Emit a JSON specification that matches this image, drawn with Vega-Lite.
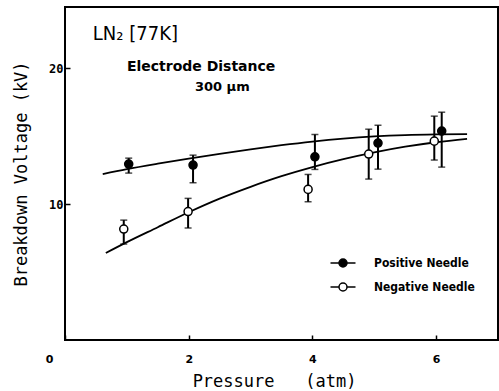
{
  "$schema": "https://vega.github.io/schema/vega-lite/v6.json",
  "width": 433,
  "height": 333,
  "autosize": "none",
  "padding": {"left": 65, "top": 7, "right": 1, "bottom": 51},
  "background": "white",
  "config": {
    "view": {"stroke": "black", "strokeWidth": 2},
    "axis": {"grid": false, "domain": false, "labelColor": "black", "titleColor": "black", "tickColor": "black"}
  },
  "datasets": {
    "points": [
      {"series": "Positive Needle", "pressure": 1.03, "voltage": 12.94, "lo": 12.28, "hi": 13.38},
      {"series": "Positive Needle", "pressure": 2.07, "voltage": 12.87, "lo": 11.57, "hi": 13.6},
      {"series": "Positive Needle", "pressure": 4.04, "voltage": 13.48, "lo": 12.55, "hi": 15.12},
      {"series": "Positive Needle", "pressure": 5.06, "voltage": 14.49, "lo": 12.57, "hi": 15.8},
      {"series": "Positive Needle", "pressure": 6.09, "voltage": 15.37, "lo": 12.72, "hi": 16.76},
      {"series": "Negative Needle", "pressure": 0.95, "voltage": 8.16, "lo": 7.06, "hi": 8.82},
      {"series": "Negative Needle", "pressure": 1.99, "voltage": 9.45, "lo": 8.24, "hi": 10.42},
      {"series": "Negative Needle", "pressure": 3.93, "voltage": 11.08, "lo": 10.17, "hi": 12.18},
      {"series": "Negative Needle", "pressure": 4.91, "voltage": 13.68, "lo": 11.84, "hi": 15.51},
      {"series": "Negative Needle", "pressure": 5.97, "voltage": 14.63, "lo": 13.24, "hi": 16.47}
    ],
    "curves": [
      {"series": "Positive Needle", "pressure": 0.61, "voltage": 12.21},
      {"series": "Positive Needle", "pressure": 1.0, "voltage": 12.57},
      {"series": "Positive Needle", "pressure": 1.5, "voltage": 12.97},
      {"series": "Positive Needle", "pressure": 2.0, "voltage": 13.34},
      {"series": "Positive Needle", "pressure": 2.5, "voltage": 13.69},
      {"series": "Positive Needle", "pressure": 3.0, "voltage": 14.02},
      {"series": "Positive Needle", "pressure": 3.5, "voltage": 14.33},
      {"series": "Positive Needle", "pressure": 4.0, "voltage": 14.6},
      {"series": "Positive Needle", "pressure": 4.5, "voltage": 14.82},
      {"series": "Positive Needle", "pressure": 5.0, "voltage": 14.98},
      {"series": "Positive Needle", "pressure": 5.5, "voltage": 15.08},
      {"series": "Positive Needle", "pressure": 6.0, "voltage": 15.13},
      {"series": "Positive Needle", "pressure": 6.5, "voltage": 15.15},
      {"series": "Negative Needle", "pressure": 0.66, "voltage": 6.4},
      {"series": "Negative Needle", "pressure": 1.0, "voltage": 7.2},
      {"series": "Negative Needle", "pressure": 1.5, "voltage": 8.3},
      {"series": "Negative Needle", "pressure": 2.0, "voltage": 9.4},
      {"series": "Negative Needle", "pressure": 2.5, "voltage": 10.4},
      {"series": "Negative Needle", "pressure": 3.0, "voltage": 11.27},
      {"series": "Negative Needle", "pressure": 3.5, "voltage": 12.05},
      {"series": "Negative Needle", "pressure": 4.0, "voltage": 12.72},
      {"series": "Negative Needle", "pressure": 4.5, "voltage": 13.3},
      {"series": "Negative Needle", "pressure": 5.0, "voltage": 13.8},
      {"series": "Negative Needle", "pressure": 5.5, "voltage": 14.22},
      {"series": "Negative Needle", "pressure": 6.0, "voltage": 14.55},
      {"series": "Negative Needle", "pressure": 6.5, "voltage": 14.8}
    ],
    "title1": [{"pressure": 0.45, "voltage": 22.5, "label": "LN₂ [77K]"}],
    "title2": [{"pressure": 2.2, "voltage": 20.07, "label": "Electrode Distance"}],
    "title3": [{"pressure": 2.1, "voltage": 18.6, "label": "300 μm"}]
  },
  "layer": [
    {
      "data": {"name": "curves"},
      "mark": {"type": "line", "color": "black", "strokeWidth": 1.8, "interpolate": "monotone"},
      "encoding": {
        "x": {
          "field": "pressure", "type": "quantitative",
          "scale": {"domain": [0, 7], "nice": false, "zero": false},
          "axis": {
            "values": [0, 2, 4, 6],
            "format": "d",
            "title": "Pressure\u00a0\u00a0\u00a0(atm)",
            "titleFont": "DejaVu Sans Mono", "titleFontSize": 17, "titleFontWeight": "normal",
            "titleX": 209, "titleY": 41, "titleBaseline": "middle",
            "labelFont": "DejaVu Sans", "labelFontWeight": "bold", "labelFontSize": 11,
            "labelOffset": {"condition": {"test": "datum.value === 0", "value": -16}, "value": 0},
            "labelFlush": false, "labelOverlap": false,
            "tickSize": -5, "tickWidth": 1.5, "labelPadding": 18
          }
        },
        "y": {
          "field": "voltage", "type": "quantitative",
          "scale": {"domain": [0, 24.5], "nice": false, "zero": false},
          "axis": {
            "values": [10, 20],
            "format": "d",
            "title": "Breakdown Voltage (kV)",
            "titleFont": "DejaVu Sans Mono", "titleFontSize": 17, "titleFontWeight": "normal",
            "titleX": -44, "titleY": 166.5, "titleBaseline": "middle", "titleAngle": -90,
            "labelFont": "DejaVu Sans Mono", "labelFontWeight": "bold", "labelFontSize": 12,
            "tickSize": -5, "tickWidth": 1.5, "labelPadding": 7
          }
        },
        "detail": {"field": "series"}
      }
    },
    {
      "data": {"name": "points"},
      "mark": {"type": "rule", "color": "black", "strokeWidth": 2},
      "encoding": {
        "x": {"field": "pressure", "type": "quantitative"},
        "y": {"field": "lo", "type": "quantitative"},
        "y2": {"field": "hi"}
      }
    },
    {
      "data": {"name": "points"},
      "mark": {"type": "tick", "orient": "horizontal", "color": "black", "size": 7, "thickness": 1.5},
      "encoding": {
        "x": {"field": "pressure", "type": "quantitative"},
        "y": {"field": "lo", "type": "quantitative"}
      }
    },
    {
      "data": {"name": "points"},
      "mark": {"type": "tick", "orient": "horizontal", "color": "black", "size": 7, "thickness": 1.5},
      "encoding": {
        "x": {"field": "pressure", "type": "quantitative"},
        "y": {"field": "hi", "type": "quantitative"}
      }
    },
    {
      "data": {"name": "points"},
      "mark": {"type": "point", "shape": "circle", "size": 65, "filled": true, "stroke": "black", "strokeWidth": 1.5, "opacity": 1},
      "encoding": {
        "x": {"field": "pressure", "type": "quantitative"},
        "y": {"field": "voltage", "type": "quantitative"},
        "fill": {
          "field": "series", "type": "nominal",
          "scale": {"domain": ["Positive Needle", "Negative Needle"], "range": ["black", "white"]},
          "legend": {
            "orient": "none", "legendX": 267, "legendY": 245, "title": null, "padding": 0,
            "symbolType": "M-1.25,0H-0.4M0.4,0H1.25M-0.4,0A0.4,0.4,0,1,0,0.4,0A0.4,0.4,0,1,0,-0.4,0Z",
            "symbolSize": 400, "symbolStrokeColor": "black", "symbolStrokeWidth": 1.5, "symbolOpacity": 1,
            "labelFont": "DejaVu Sans Condensed", "labelFontSize": 12, "labelFontWeight": "bold", "labelColor": "black",
            "labelOffset": 20, "rowPadding": 6
          }
        }
      }
    },
    {
      "data": {"name": "title1"},
      "mark": {"type": "text", "align": "left", "baseline": "middle", "font": "DejaVu Sans Condensed", "fontSize": 20, "color": "black"},
      "encoding": {
        "x": {"field": "pressure", "type": "quantitative"},
        "y": {"field": "voltage", "type": "quantitative"},
        "text": {"field": "label"}
      }
    },
    {
      "data": {"name": "title2"},
      "mark": {"type": "text", "align": "center", "baseline": "middle", "font": "DejaVu Sans", "fontWeight": "bold", "fontSize": 14, "color": "black"},
      "encoding": {
        "x": {"field": "pressure", "type": "quantitative"},
        "y": {"field": "voltage", "type": "quantitative"},
        "text": {"field": "label"}
      }
    },
    {
      "data": {"name": "title3"},
      "mark": {"type": "text", "align": "left", "baseline": "middle", "font": "DejaVu Sans", "fontWeight": "bold", "fontSize": 13, "color": "black"},
      "encoding": {
        "x": {"field": "pressure", "type": "quantitative"},
        "y": {"field": "voltage", "type": "quantitative"},
        "text": {"field": "label"}
      }
    }
  ]
}
